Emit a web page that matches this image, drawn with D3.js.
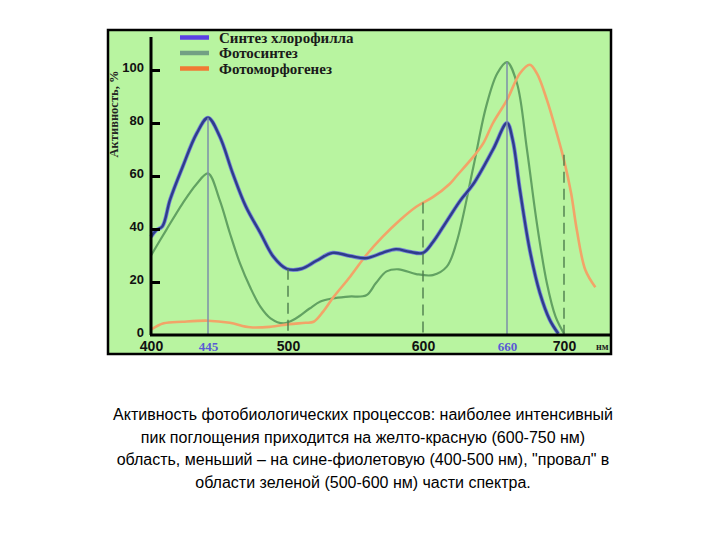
<!DOCTYPE html>
<html><head><meta charset="utf-8">
<script src="https://cdn.jsdelivr.net/npm/d3@7/dist/d3.min.js"></script>
<style>
html,body{margin:0;padding:0;background:#fff;}
svg{display:block;}
</style></head>
<body>
<script>
// ---- data ----
const xTicks = [400, 445, 500, 600, 660, 700];
const xTickLabels = ["400", "445", "500", "600", "660", "700"];
const yTicks = [0, 20, 40, 60, 80, 100];

const chlWl  = [400,404,409,415,425,436,445,453,462,471,481,490,499,510,521,533,546,558,570,580,590,600,607,617,627,636,650,660,664,669,676,683,690,696];
const chlVal = [37,39.5,41,51,63.5,76,82,75,61,48.5,38.5,29.5,25,25,28,31,29.8,29,31,32.4,31.4,31,35,43,51,57,70,80,73.6,55,32,16,5.7,0.5];

const phWl  = [400,412,425,436,445,453,460,467,474,481,488,497,506,516,524,533,545,558,565,573,582,595,607,617,624,636,645,653,660,667,674,681,688,694,700];
const phVal = [30,39.6,49.7,57,61,51,38.5,27,18,10.7,6.3,4.4,6.3,10,12.6,13.8,14.5,15,19.5,24,24.8,23,22.6,25.8,35,63.5,86,98.7,103,95,70,42,19.5,7,0.5];

const mfWl  = [400,410,425,445,460,474,488,501,513,519,526,534,546,558,570,583,595,607,619,624,636,643,650,660,669,676,681,688,695,700,705,709,715,722];
const mfVal = [2,4.4,5,5.4,4.6,2.9,3.1,4.1,4.6,5,8.8,14.5,22,30.2,37,43.4,48.4,52,57,60,67.3,72.3,80,88.7,98.7,102,98.7,88.7,76,66,53.5,39.6,24.5,18];

const guideWl  = [445, 500, 600, 660, 700];
const guideTop = [82, 25, 50, 103, 68];
const guideDashed = [false, true, true, false, true];

const seriesNames = ["Синтез хлорофилла", "Фотосинтез", "Фотоморфогенез"];
const caption = [
  "Активность фотобиологических процессов: наиболее интенсивный",
  "пик поглощения приходится на желто-красную (600-750 нм)",
  "область, меньший – на сине-фиолетовую (400-500 нм), \"провал\" в",
  "области зеленой (500-600 нм) части спектра."
];

// ---- drawing ----
const W = 720, H = 540;
const svg = d3.select("body").append("svg").attr("width", W).attr("height", H);

// frame
svg.append("rect").attr("x", 108).attr("y", 30).attr("width", 503).attr("height", 324)
  .attr("fill", "#b8f4a0").attr("stroke", "#000").attr("stroke-width", 2.5);

const x = d3.scaleLinear().domain([400, 445, 500, 600, 660, 700]).range([151, 208, 288, 423, 507, 564]);
const y = d3.scaleLinear().domain([0, 100]).range([335, 70]);

const line = d3.line().x(d => x(d[0])).y(d => y(d[1])).curve(d3.curveCatmullRom.alpha(0.5));
const zip = (a, b) => a.map((v, i) => [v, b[i]]);

// curves
const g = svg.append("g");
g.append("path").datum(zip(phWl, phVal)).attr("d", line)
  .attr("fill", "none").attr("stroke", "#62a262").attr("stroke-width", 2.2);
g.append("path").datum(zip(mfWl, mfVal)).attr("d", line)
  .attr("fill", "none").attr("stroke", "#f2a468").attr("stroke-width", 2.6);
g.append("path").datum(zip(chlWl, chlVal)).attr("d", line)
  .attr("fill", "none").attr("stroke", "#7686d6").attr("stroke-width", 4);
g.append("path").datum(zip(chlWl, chlVal)).attr("d", line)
  .attr("fill", "none").attr("stroke", "#2e3c8c").attr("stroke-width", 2.4);

// guide lines
guideWl.forEach((w, i) => {
  svg.append("line")
    .attr("x1", x(w)).attr("x2", x(w))
    .attr("y1", y(guideTop[i])).attr("y2", y(0))
    .attr("stroke", guideDashed[i] ? "#4d7d4d" : "#7c8fa8")
    .attr("stroke-width", guideDashed[i] ? 1.4 : 1.5)
    .attr("stroke-dasharray", guideDashed[i] ? "11,6" : null);
});

// axes
const xAxisG = svg.append("g").attr("transform", `translate(0,${y(0)})`)
  .call(d3.axisBottom(x).tickValues(xTicks).tickFormat((d, i) => xTickLabels[i]).tickSize(0));
xAxisG.select(".domain").remove();
xAxisG.append("line").attr("x1", x(400) - 1).attr("x2", 611).attr("y1", 0).attr("y2", 0)
  .attr("stroke", "#000").attr("stroke-width", 3);
xAxisG.selectAll(".tick text")
  .attr("dy", 0).attr("y", 16)
  .attr("font-family", d => (d === 445 || d === 660) ? "Liberation Serif" : "Liberation Sans")
  .attr("font-weight", "bold")
  .attr("font-size", d => (d === 445 || d === 660) ? 13 : 14)
  .attr("fill", d => (d === 445 || d === 660) ? "#5a5ad6" : "#111");
svg.append("text").attr("x", 596).attr("y", 350).text("нм")
  .attr("font-family", "Liberation Serif").attr("font-weight", "bold").attr("font-size", 10).attr("fill", "#222");

const yAxisG = svg.append("g").attr("transform", `translate(${x(400)},0)`)
  .call(d3.axisRight(y).tickValues(yTicks).tickSize(9).tickFormat(""));
yAxisG.select(".domain").remove();
yAxisG.append("line").attr("x1", 0).attr("x2", 0).attr("y1", 37).attr("y2", y(0))
  .attr("stroke", "#000").attr("stroke-width", 3);
yAxisG.selectAll(".tick line").attr("stroke", "#000").attr("stroke-width", 3)
  .filter(d => d === 0).remove();
yAxisG.selectAll(".tick").append("text")
  .attr("x", -7).attr("y", -3).attr("dy", "0.32em")
  .attr("text-anchor", "end")
  .attr("font-family", "Liberation Sans").attr("font-weight", "bold").attr("font-size", 13)
  .attr("fill", "#111")
  .text(d => d);

// y label
svg.append("text").attr("transform", "translate(118,114) rotate(-90)")
  .attr("text-anchor", "middle")
  .attr("font-family", "Liberation Serif").attr("font-weight", "bold").attr("font-size", 12.5)
  .attr("fill", "#222").text("Активность, %");

// legend
const legColors = ["#5a40e4", "#72a084", "#f07a34"];
seriesNames.forEach((n, i) => {
  const yy = 37.5 + i * 15.5;
  svg.append("line").attr("x1", 180).attr("x2", 209).attr("y1", yy).attr("y2", yy)
    .attr("stroke", legColors[i]).attr("stroke-width", 4.5);
  svg.append("text").attr("x", 219).attr("y", yy + 5).text(n)
    .attr("font-family", "Liberation Serif").attr("font-weight", "bold").attr("font-size", 15)
    .attr("fill", "#1a1a1a");
});

// caption
caption.forEach((t, i) => {
  svg.append("text").attr("x", 363).attr("y", 420 + i * 22.5).attr("text-anchor", "middle")
    .attr("font-family", "Liberation Sans").attr("font-size", 16).attr("fill", "#000").text(t);
});
</script>
</body></html>
